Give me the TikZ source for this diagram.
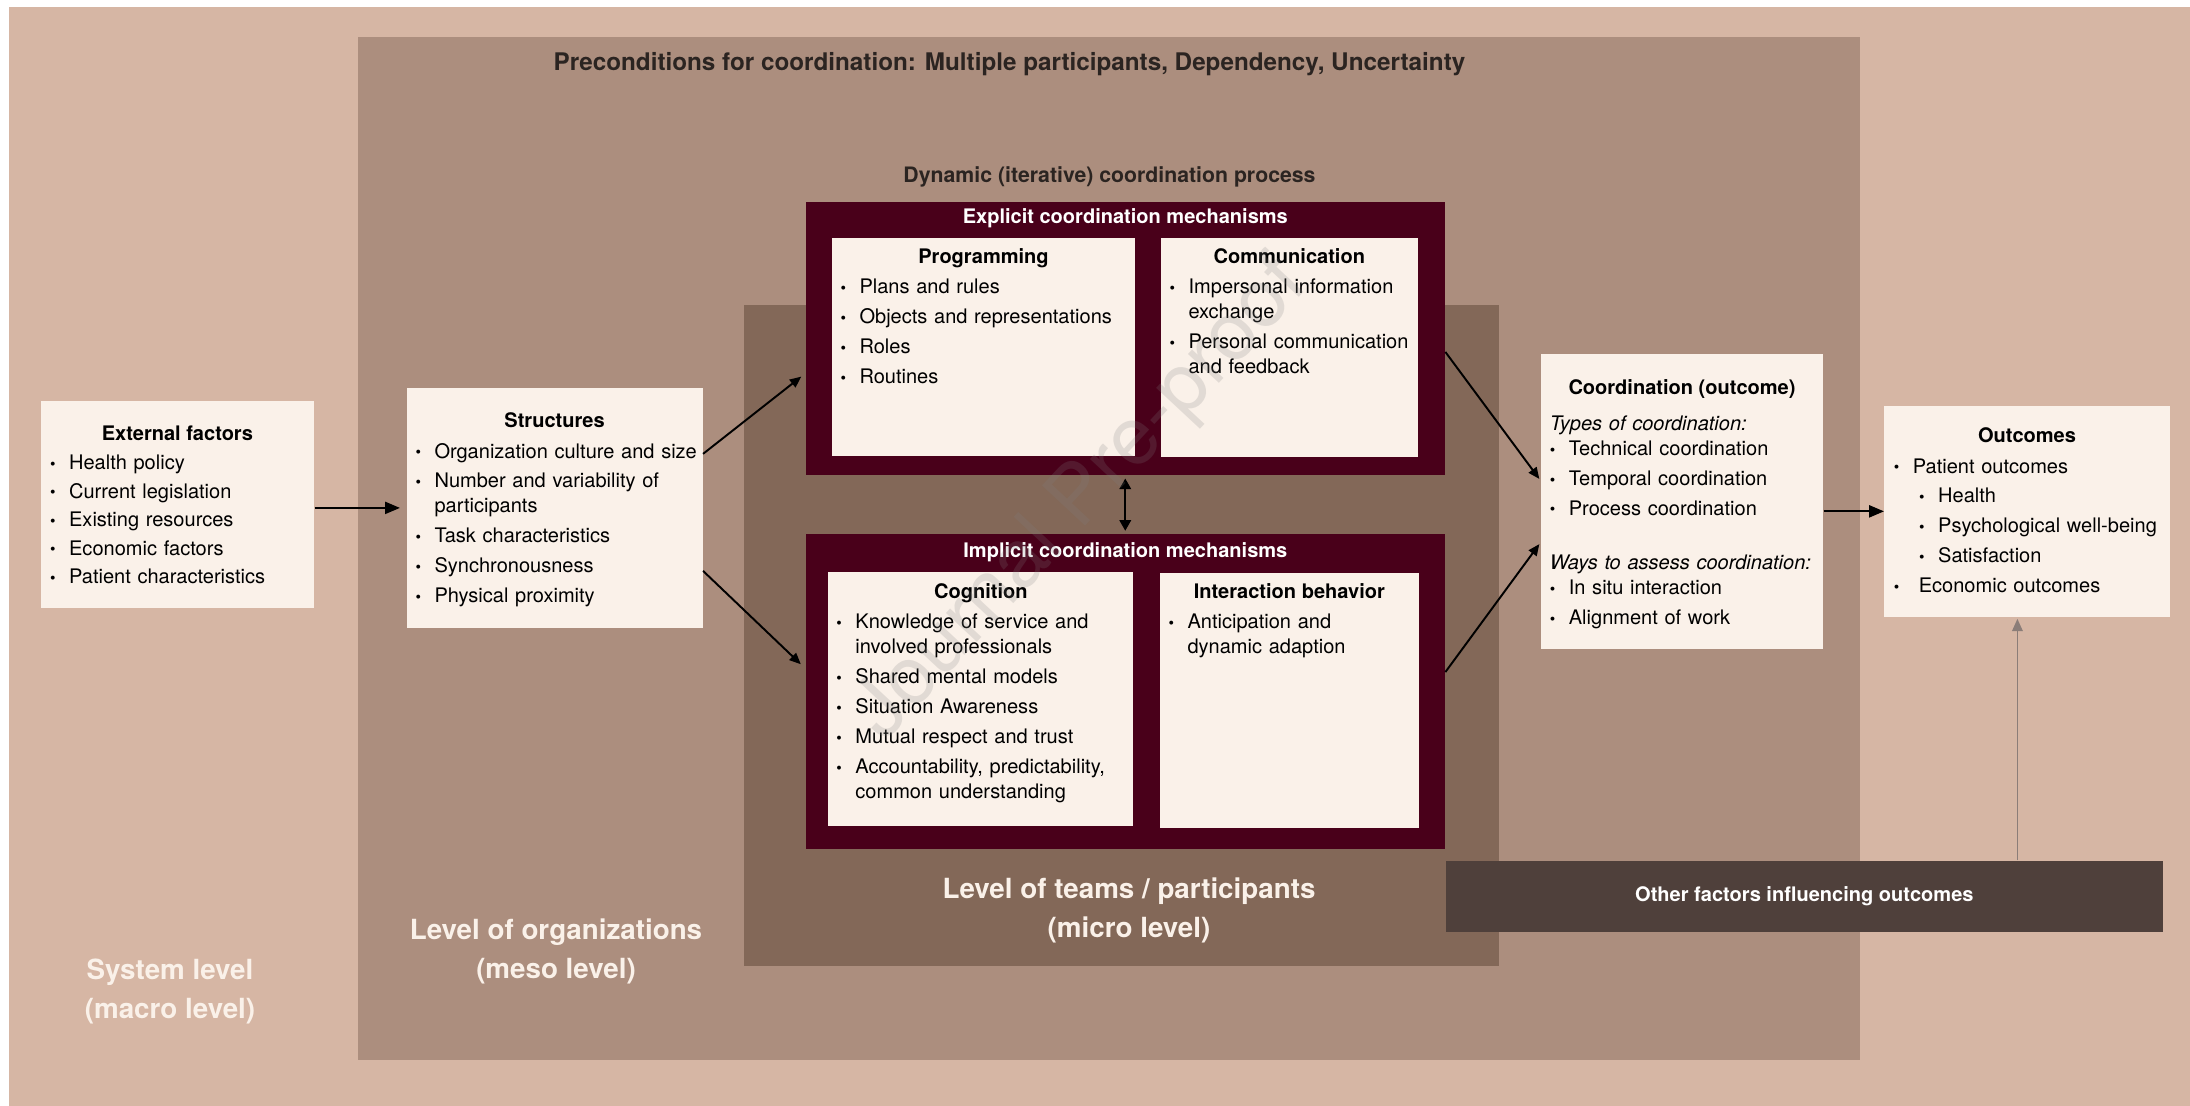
\documentclass[tikz,border=0pt]{standalone}
\usepackage{fontspec}
\setmainfont{TeX Gyre Heros}
\usepackage{graphicx}
\usetikzlibrary{fit, arrows.meta}

\newlength\itind
\setlength\itind{10.8pt}
\def\bul{\raisebox{0.01em}{\scalebox{0.78}{\textbullet}}}
\newcommand{\itm}[2][2.85pt]{\hangindent=\itind\hangafter=1\noindent\makebox[\itind][l]{\bul}\strut#2\par\vskip#1}
\newcommand{\sitm}[2][2.85pt]{\hangindent=25.2pt\hangafter=1\noindent\hspace*{14.4pt}\makebox[\itind][l]{\bul}\strut#2\par\vskip#1}
\newcommand{\pln}[2][0pt]{\noindent\strut#2\par\vskip#1}

\begin{document}
\begin{tikzpicture}[x=0.2mm, y=-0.2mm,
  card/.style={fill=cardc, inner sep=0pt},
  mech/.style={fill=mechc, inner sep=0pt},
  ttl/.style={anchor=base, inner sep=0pt, font=\bfseries\fontsize{11.4}{14.2}\selectfont},
  lst/.style={anchor=north west, inner sep=0pt, text width=300pt, align=left, font=\fontsize{11.4}{14.2}\selectfont},
  lvl/.style={align=center, inner sep=0pt, text=cardc, font=\bfseries\fontsize{15.8}{22.2}\selectfont},
  arr/.style={-{Triangle[length=6.5pt,width=5.5pt]}, line width=1.1pt},
  harr/.style={-{Triangle[length=8.5pt,width=6.8pt]}, line width=1.3pt}]

% brown level palette
\definecolor{bgc}{HTML}{D6B6A4}
\definecolor{mesoc}{HTML}{AC8E7E}
\definecolor{microc}{HTML}{836858}
\definecolor{mechc}{HTML}{49001A}
\definecolor{cardc}{HTML}{FAF1E9}
\definecolor{otherc}{HTML}{4F403B}
\definecolor{gryc}{HTML}{8B7D78}
\definecolor{darkc}{HTML}{2B2421}

\useasboundingbox (0,0) rectangle (2190,1106);
\fill[white] (0,0) rectangle (2190,1106);
%% the three levels
\fill[bgc] (9,7) rectangle (2190,1106);
\fill[mesoc] (358,37.5) rectangle (1860,1060);
\fill[microc] (743.6,305) rectangle (1499,966);
\node[lvl] (sys) at (170,991) {System level\\(macro level)};
\node[lvl] (meso) at (556,951.5) {Level of organizations\\(meso level)};
\node[lvl] (micro) at (1129,910.5) {Level of teams / participants\\(micro level)};
\node[anchor=base, inner sep=0pt, text=darkc, font=\bfseries\fontsize{13.8}{16}\selectfont] (pre) at (1009.5,71) {Preconditions for coordination: Multiple participants, Dependency, Uncertainty};
\node[anchor=base, inner sep=0pt, text=darkc, font=\bfseries\fontsize{12.1}{14}\selectfont] (dyn) at (1109.5,183) {Dynamic (iterative) coordination process};

%% external factors and structures
\node[card, fit={(40.5,401) (314.2,608.2)}] (ext) {};
\node[ttl] (extt) at (177.4,440) {External factors};
\node[lst] (extl) at (49.8,451.8) {\itm[2pt]{Health policy}\itm[2pt]{Current legislation}\itm[2pt]{Existing resources}\itm[2pt]{Economic factors}\itm[2pt]{Patient characteristics}};
\node[card, fit={(406.5,388) (702.7,627.8)}] (struct) {};
\node[ttl] (structt) at (554.6,427) {Structures};
\node[lst] (structl) at (415.2,440.2) {\itm{Organization culture and size}\itm{Number and variability of\newline participants}\itm{Task characteristics}\itm{Synchronousness}\itm{Physical proximity}};

%% explicit mechanisms
\node[mech, fit={(805.5,201.8) (1445,475)}] (expl) {};
\node[ttl, text=white] (explt) at (1125.3,223.4) {Explicit coordination mechanisms};
\node[card, fit={(832.4,237.6) (1134.6,456.4)}] (prog) {};
\node[ttl] (progt) at (983.5,263.3) {Programming};
\node[lst] (progl) at (840.2,276.1) {\itm{Plans and rules}\itm{Objects and representations}\itm{Roles}\itm{Routines}};
\node[card, fit={(1160.7,237.6) (1417.8,457)}] (comm) {};
\node[ttl] (commt) at (1289.3,263.3) {Communication};
\node[lst] (comml) at (1169.2,276.1) {\itm{Impersonal information\newline exchange}\itm{Personal communication\newline and feedback}};

%% implicit mechanisms
\node[mech, fit={(805.5,534.3) (1445,848.5)}] (impl) {};
\node[ttl, text=white] (implt) at (1125.3,557) {Implicit coordination mechanisms};
\node[card, fit={(828.2,572.2) (1133.3,826.4)}] (cogn) {};
\node[ttl] (cognt) at (980.8,598.4) {Cognition};
\node[lst] (cognl) at (836.1,610.7) {\itm{Knowledge of service and\newline involved professionals}\itm{Shared mental models}\itm{Situation Awareness}\itm{Mutual respect and trust}\itm{Accountability, predictability,\newline common understanding}};
\node[card, fit={(1159.8,573) (1418.7,827.6)}] (inter) {};
\node[ttl] (intert) at (1289.3,598.4) {Interaction behavior};
\node[lst] (interl) at (1168.2,610.5) {\itm{Anticipation and\newline dynamic adaption}};

%% coordination and outcomes
\node[card, fit={(1540.5,354) (1823.3,649)}] (coord) {};
\node[ttl] (coordt) at (1682,394.3) {Coordination (outcome)};
\node[lst] (coordl) at (1549.5,412.5) {\pln{\textit{Types of coordination:}}\itm{Technical coordination}\itm{Temporal coordination}\itm[16.7pt]{Process coordination}\pln{\textit{Ways to assess coordination:}}\itm{In situ interaction}\itm{Alignment of work}};
\node[card, fit={(1884.4,406) (2169.7,616.7)}] (outc) {};
\node[ttl] (outct) at (2027,442.7) {Outcomes};
\node[lst] (outcl) at (1893.5,455.2) {\itm{Patient outcomes}\sitm{Health}\sitm{Psychological well-being}\sitm{Satisfaction}\itm{\hspace*{3.4pt}Economic outcomes}};
\node[fill=otherc, inner sep=0pt, fit={(1445.7,860.6) (2163,932.4)}] (other) {};
\node[inner sep=0pt, text=white, font=\bfseries\fontsize{11.4}{14.2}\selectfont] (othert) at (other.center) {Other factors influencing outcomes};

%% connectors
\draw[harr, shorten >=3.5pt] (ext.east |- struct.west) -- (struct.west);
\draw[arr, shorten >=2.8pt] (struct.20) -- ([yshift=-20pt]expl.west);
\draw[arr, shorten >=3.4pt] (struct.-23) -- ([yshift=13.1pt]impl.west);
\draw[arr, shorten >=0.8pt] ([yshift=-7.7pt]expl.east) -- ([yshift=12.2pt]coord.west);
\draw[arr, shorten >=0.8pt] ([yshift=11pt]impl.east) -- ([yshift=-23.6pt]coord.west);
\draw[{Triangle[length=6pt,width=6.5pt]}-{Triangle[length=6pt,width=6.5pt]}, line width=1.1pt, shorten <=1.8pt, shorten >=1.8pt] (expl.south) -- (impl.north);
\draw[harr] (coord.east |- outc.west) -- (outc.west);
\coordinate (gx) at (2017.4,0);
\draw[-{Triangle[length=7pt,width=6pt]}, gryc, line width=0.9pt, shorten >=1pt] (gx |- other.north) -- (gx |- outc.south);

%% watermark
\node[rotate=47, text=gray, opacity=0.2, inner sep=0pt, font=\fontsize{46}{46}\selectfont] (wm) at (1082,500) {Journal Pre-proof};
\end{tikzpicture}
\end{document}
